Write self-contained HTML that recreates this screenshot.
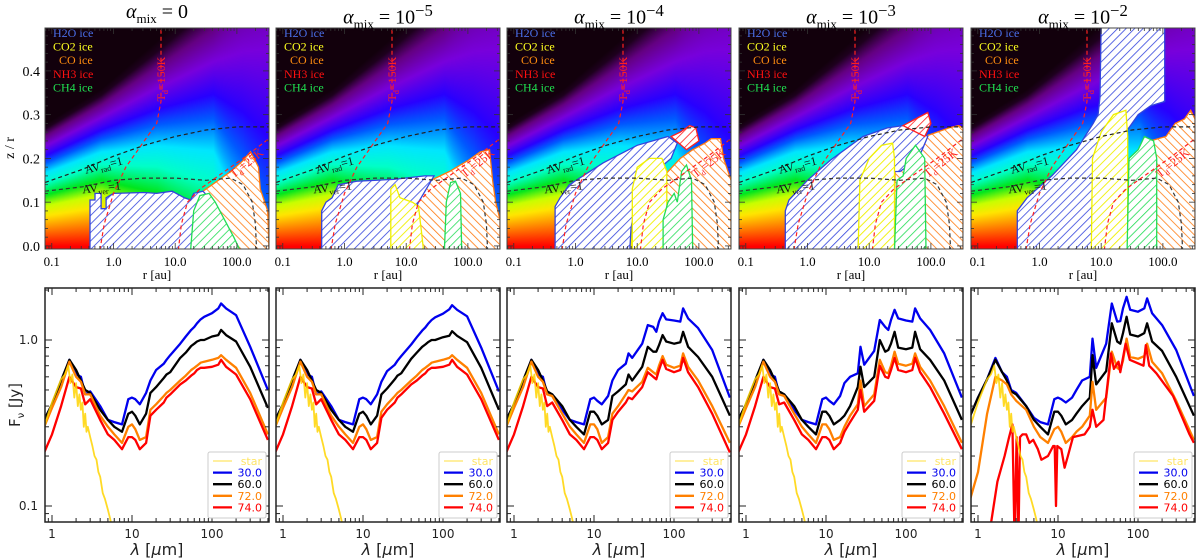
<!DOCTYPE html>
<html><head><meta charset="utf-8">
<style>
html,body{margin:0;padding:0;background:#fff;}
#wrap{position:relative;width:1200px;height:558px;overflow:hidden;background:#fff;}
canvas{position:absolute;}
svg{position:absolute;left:0;top:0;}
.ttl{position:absolute;font-family:"Liberation Serif",serif;font-size:20px;text-align:center;width:224px;top:1px;color:#000;}
</style></head>
<body>
<div id="wrap">
<svg id="s" width="1200" height="558" xmlns="http://www.w3.org/2000/svg">
<defs>
<pattern id="hb" width="6" height="6" patternUnits="userSpaceOnUse" patternTransform="rotate(45)"><rect width="6" height="6" fill="#fff"/><line x1="0" y1="0" x2="0" y2="6" stroke="#3344dd" stroke-width="1.6"/></pattern>
<pattern id="hy" width="6" height="6" patternUnits="userSpaceOnUse" patternTransform="rotate(45)"><rect width="6" height="6" fill="#fff"/><line x1="0" y1="0" x2="0" y2="6" stroke="#f0f000" stroke-width="1.8"/></pattern>
<pattern id="ho" width="6" height="6" patternUnits="userSpaceOnUse" patternTransform="rotate(-45)"><rect width="6" height="6" fill="#fff"/><line x1="0" y1="0" x2="0" y2="6" stroke="#ff7a10" stroke-width="1.6"/></pattern>
<pattern id="hg" width="6" height="6" patternUnits="userSpaceOnUse" patternTransform="rotate(45)"><rect width="6" height="6" fill="#fff"/><line x1="0" y1="0" x2="0" y2="6" stroke="#22dd55" stroke-width="1.6"/></pattern>
<pattern id="hr" width="6" height="6" patternUnits="userSpaceOnUse" patternTransform="rotate(45)"><rect width="6" height="6" fill="#fff"/><line x1="0" y1="0" x2="0" y2="6" stroke="#ff2020" stroke-width="1.6"/></pattern>
</defs>
</svg>
</div>
<script>
// ---------- data ----------
const titles=["0","10<sup>\u22125</sup>","10<sup>\u22124</sup>","10<sup>\u22123</sup>","10<sup>\u22122</sup>"];
const orangeIce=[
[[1.3,-0.01],[1.3,0.11],[1.6,0.14],[1.9,0.17],[2.1,0.195],[2.22,0.215],[2.28,0.2],[2.35,0.18],[2.38,0.13],[2.45,0.1],[2.5,0.08],[2.52,-0.01]],
[[0.9,-0.01],[0.9,0.08],[1.1,0.11],[1.4,0.15],[1.7,0.17],[2.0,0.195],[2.2,0.215],[2.35,0.22],[2.4,0.15],[2.45,0.1],[2.52,0.06],[2.52,-0.01]],
[[1.2,-0.01],[1.25,0.12],[1.5,0.17],[1.7,0.2],[1.9,0.22],[2.1,0.235],[2.2,0.245],[2.35,0.245],[2.4,0.2],[2.52,0.15],[2.52,-0.01]],
[[1.4,-0.01],[1.42,0.18],[1.6,0.22],[1.9,0.25],[2.1,0.26],[2.3,0.27],[2.45,0.275],[2.52,0.27],[2.52,-0.01]],
[[1.4,-0.01],[1.42,0.18],[1.6,0.22],[1.8,0.24],[2.05,0.25],[2.2,0.28],[2.35,0.29],[2.45,0.31],[2.52,0.29],[2.52,-0.01]]];
const blueIce=[
[[-0.38,-0.01],[-0.38,0.105],[-0.3,0.105],[-0.3,0.12],[-0.2,0.12],[-0.2,0.085],[-0.12,0.085],[-0.12,0.11],[0,0.12],[0.5,0.122],[0.7,0.12],[0.95,0.125],[1.15,0.11],[1.25,0.105],[1.3,0.12],[1.45,0.125],[1.55,0.11],[1.7,0.06],[1.8,0.02],[1.85,-0.01]],
[[-0.37,-0.01],[-0.37,0.08],[-0.3,0.1],[-0.2,0.11],[-0.1,0.14],[0.2,0.148],[0.8,0.152],[1.3,0.16],[1.45,0.16],[1.2,0.1],[1.0,0.04],[0.95,-0.01]],
[[-0.33,-0.01],[-0.33,0.09],[-0.25,0.11],[-0.1,0.14],[0.45,0.19],[1.0,0.23],[1.5,0.25],[1.65,0.235],[1.55,0.2],[1.3,0.17],[1.0,0.12],[0.9,0.04],[0.88,-0.01]],
[[-0.36,-0.01],[-0.36,0.08],[-0.3,0.105],[0.0,0.15],[0.37,0.196],[0.9,0.25],[1.3,0.27],[1.55,0.275],[1.8,0.265],[1.95,0.25],[1.8,0.2],[1.5,0.17],[1.0,0.17],[0.85,0.1],[0.82,-0.01]],
[[-0.36,-0.01],[-0.36,0.08],[-0.2,0.11],[0.2,0.16],[0.6,0.22],[0.87,0.28],[0.95,0.3],[0.98,0.34],[1.0,0.51],[2.03,0.51],[2.03,0.33],[1.8,0.32],[1.6,0.3],[1.3,0.24],[1.2,0.2],[1.0,0.1],[0.85,-0.01]]];
const yellowIce=[
[],
[[0.75,-0.01],[0.75,0.13],[0.82,0.14],[0.9,0.11],[1.0,0.105],[1.1,0.1],[1.2,0.09],[1.25,0.03],[1.28,-0.01]],
[[0.92,-0.01],[0.92,0.13],[1.0,0.18],[1.2,0.2],[1.4,0.2],[1.48,0.17],[1.48,-0.01]],
[[0.82,-0.01],[0.85,0.15],[1.0,0.2],[1.2,0.23],[1.38,0.235],[1.41,0.2],[1.41,-0.01]],
[[0.84,-0.01],[0.86,0.2],[1.0,0.26],[1.2,0.3],[1.4,0.31],[1.43,0.25],[1.43,-0.01]]];
const greenIce=[
[[1.25,-0.01],[1.3,0.08],[1.4,0.115],[1.55,0.12],[1.65,0.1],[1.8,0.06],[1.95,0.02],[2.05,-0.01]],
[[1.62,-0.01],[1.65,0.1],[1.72,0.145],[1.8,0.148],[1.88,0.12],[1.9,-0.01]],
[[1.42,-0.01],[1.42,0.06],[1.5,0.1],[1.6,0.12],[1.65,0.1],[1.72,0.17],[1.8,0.185],[1.88,0.15],[1.9,-0.01]],
[[1.41,-0.01],[1.45,0.15],[1.55,0.16],[1.6,0.2],[1.75,0.23],[1.9,0.2],[1.92,-0.01]],
[[1.42,-0.01],[1.45,0.2],[1.6,0.22],[1.7,0.25],[1.85,0.24],[1.9,0.2],[1.9,-0.01]]];
const redIce=[[],[],
[[1.55,0.25],[1.7,0.26],[1.85,0.275],[1.95,0.27],[2.0,0.24],[1.8,0.22]],
[[1.55,0.275],[1.75,0.29],[1.95,0.305],[2.0,0.28],[1.9,0.25]],
[]];
const t150=[[0.77,0.51],[0.77,0.33],[0.7,0.28],[0.5,0.24],[0.2,0.18],[0,0.12],[-0.15,0.05],[-0.22,-0.01]];
const t25=[[1.05,-0.01],[1.1,0.05],[1.2,0.1],[1.4,0.13],[1.8,0.17],[2.1,0.2],[2.52,0.245]];
const avRad=[[-1.11,0.145],[-0.5,0.175],[0,0.205],[0.5,0.23],[1,0.25],[1.5,0.265],[2,0.272],[2.52,0.272]];
const avVer=[[-1.11,0.125],[-0.5,0.135],[0,0.15],[0.5,0.155],[1,0.155],[1.5,0.15],[1.9,0.155],[2.1,0.14],[2.25,0.1],[2.3,0.05],[2.32,-0.01]];

const lam=[0.8,1,1.3,1.65,2,2.3,2.6,3,4,5,6,7.5,9,10,11,12.5,15,17,20,25,27,30,40,47,55,60,65,72,80,100,120,130,150,200,300,500];
const p1Blue=[.33,.41,.55,.76,.62,.6,.47,.49,.4,.33,.32,.31,.44,.45,.44,.41,.48,.57,.66,.72,.76,.81,.95,1.05,1.15,1.2,1.26,1.33,1.38,1.45,1.55,1.66,1.55,1.41,.91,.5];
const p1Black=[.33,.41,.57,.76,.66,.57,.5,.48,.38,.33,.3,.28,.36,.37,.35,.31,.36,.48,.52,.59,.62,.64,.78,.84,.92,.95,.98,1.0,1.0,1.05,1.07,1.15,1.07,.98,.69,.39];
const p1Orange=[.3,.39,.52,.74,.6,.56,.47,.47,.35,.3,.27,.24,.3,.31,.29,.25,.26,.38,.41,.46,.48,.5,.57,.61,.66,.68,.7,.73,.74,.76,.78,.81,.76,.68,.48,.27];
const p1Red=[.21,.27,.4,.6,.52,.51,.41,.44,.33,.27,.25,.22,.26,.26,.25,.22,.24,.35,.38,.42,.45,.47,.54,.57,.61,.63,.66,.68,.68,.69,.71,.76,.69,.62,.44,.25];
const p2Blue=[.33,.41,.55,.76,.62,.6,.47,.49,.4,.33,.32,.31,.44,.45,.44,.41,.47,.56,.65,.71,.75,.8,.94,1.04,1.14,1.19,1.25,1.32,1.37,1.44,1.53,1.62,1.52,1.39,.9,.49];
const p2Black=[.33,.41,.57,.76,.66,.57,.5,.48,.38,.33,.3,.28,.36,.37,.35,.31,.35,.47,.51,.58,.61,.63,.77,.84,.91,.94,.97,1.0,1.0,1.04,1.06,1.13,1.06,.97,.68,.38];
const p2Orange=[.3,.39,.52,.74,.6,.56,.47,.47,.35,.3,.27,.24,.3,.31,.29,.25,.26,.37,.41,.46,.48,.5,.57,.61,.66,.68,.7,.73,.74,.76,.78,.81,.76,.68,.48,.27];
const p2Red=[.21,.27,.4,.6,.52,.51,.41,.44,.33,.27,.25,.22,.26,.26,.25,.22,.24,.34,.38,.42,.45,.47,.54,.57,.61,.63,.66,.68,.68,.69,.71,.76,.69,.62,.44,.25];
const p3Blue=[.33,.41,.55,.76,.62,.6,.47,.47,.38,.33,.32,.31,.44,.45,.43,.41,.46,.57,.66,.72,.83,.78,.95,1.23,1.2,1.12,1.29,1.45,1.33,1.31,1.29,1.55,1.35,1.18,.87,.45];
const p3Black=[.33,.41,.57,.76,.66,.57,.49,.47,.4,.33,.3,.27,.37,.37,.35,.31,.33,.46,.49,.54,.62,.57,.69,.91,.85,.85,.93,1.07,.98,.95,.97,1.12,.91,.79,.6,.35];
const p3Orange=[.3,.39,.52,.74,.6,.56,.47,.46,.36,.3,.27,.24,.31,.31,.29,.24,.26,.36,.4,.47,.5,.49,.56,.68,.64,.62,.7,.8,.71,.68,.7,.83,.69,.57,.4,.24];
const p3Red=[.21,.27,.4,.6,.52,.51,.4,.42,.33,.27,.25,.22,.26,.26,.25,.22,.24,.33,.37,.42,.45,.44,.52,.64,.6,.58,.66,.76,.67,.64,.66,.78,.64,.52,.36,.21];
const p4Blue=[.33,.41,.55,.76,.62,.6,.47,.47,.38,.33,.32,.31,.44,.45,.43,.41,.46,.55,.6,.63,.91,.71,.86,1.32,1.2,1.15,1.32,1.52,1.35,1.31,1.29,1.55,1.35,1.15,.83,.45];
const p4Black=[.33,.41,.57,.76,.66,.57,.49,.47,.4,.33,.3,.27,.37,.37,.35,.31,.33,.35,.4,.52,.69,.52,.6,1.0,.85,.87,.95,1.12,.9,.88,.9,1.12,.88,.76,.57,.33];
const p4Orange=[.3,.39,.52,.74,.6,.56,.47,.46,.36,.3,.27,.24,.31,.31,.29,.25,.26,.3,.35,.41,.57,.4,.47,.76,.64,.63,.7,.85,.72,.7,.72,.83,.69,.57,.4,.24];
const p4Red=[.21,.27,.4,.6,.52,.51,.41,.42,.33,.27,.25,.22,.26,.26,.25,.22,.24,.28,.32,.38,.5,.37,.43,.7,.6,.59,.66,.78,.66,.64,.66,.78,.64,.52,.36,.22];
const p5Blue=[.35,.45,.58,.78,.64,.6,.5,.48,.4,.34,.32,.31,.44,.45,.44,.42,.45,.5,.57,.6,1.02,.68,.95,1.66,1.29,1.3,1.55,1.82,1.52,1.48,1.55,1.78,1.45,1.23,.87,.46];
const p5Black=[.35,.45,.58,.76,.64,.57,.49,.47,.4,.33,.3,.27,.37,.37,.35,.31,.33,.36,.4,.45,.81,.54,.65,1.26,.98,.95,1.1,1.38,1.08,1.05,1.1,1.26,.98,.86,.6,.35];
const p5Orange=[.11,.16,.36,.6,.57,.54,.47,.43,.38,.3,.26,.24,.29,.3,.28,.24,.26,.28,.3,.35,.56,.38,.45,.85,.68,.66,.75,1.02,.79,.77,.8,.95,.74,.63,.43,.25];
const lamRed5=[1.4,1.75,2.15,2.45,2.69,2.87,3.04,3.2,3.35,3.6,4.0,4.4,4.9,5.6,6.2,7.5,8.7,9.1,9.44,9.8,11,12.1,13.3,15.4,21.5,25,27,30,37,46,50,57,60,70,79,117,125,138,170,275,440,500];
const p5Red=[.07,.14,.2,.26,.31,.06,.26,.06,.26,.27,.27,.24,.25,.22,.19,.2,.23,.23,.1,.23,.22,.17,.2,.26,.27,.3,.38,.3,.33,.83,.67,.74,.64,.95,.76,.7,.93,.7,.63,.46,.27,.24];
const lamStar=[0.8,0.9,1,1.15,1.3,1.45,1.6,1.7,1.8,1.9,2,2.1,2.2,2.3,2.4,2.5,2.6,2.7,2.8,3,3.2,3.4,3.6,3.8,4,4.3,4.6,5,5.3,5.6];
const starFlux=[.3,.36,.42,.5,.58,.62,.7,.55,.62,.45,.55,.4,.47,.38,.42,.3,.36,.28,.3,.26,.23,.2,.19,.16,.15,.12,.11,.095,.085,.075];
const legendLabels=["star","30.0","60.0","72.0","74.0"];
const seriesColors=["#ffd400","#0000ee","#000000","#ff8000","#ff0000"];

// ---------- layout ----------
const lefts=[45,276,507,739,971];
const PW=224, TT=28, TH=221, BT=288, BH=234;
const NS="http://www.w3.org/2000/svg";
const svg=document.getElementById('s');
const wrap=document.getElementById('wrap');
function lx(p,l){return lefts[p]+(l+1.11)*61.7;}
function zy(z){return TT+(0.498-z)*437.6;}
function bx(p,w){return lefts[p]+7+Math.log10(w)*80;}
function by(f){return 340-166*Math.log10(f);}
function mk(tag,attrs,parent){const e=document.createElementNS(NS,tag);for(const k in attrs)e.setAttribute(k,attrs[k]);(parent||svg).appendChild(e);return e;}

const stops=[[0,255,0,0],[.12,255,110,0],[.25,255,230,0],[.33,200,255,0],[.42,0,230,30],[.52,0,255,200],[.6,0,230,255],[.68,0,90,255],[.74,40,0,255],[.82,120,0,220],[.9,100,0,130],[.96,30,0,30],[1,18,0,12]];
function cmap(v){if(v<=0)return stops[0].slice(1);if(v>=1)return stops[stops.length-1].slice(1);
 for(let i=1;i<stops.length;i++){if(v<=stops[i][0]){const a=stops[i-1],b=stops[i],t=(v-a[0])/(b[0]-a[0]);return [a[1]+(b[1]-a[1])*t,a[2]+(b[2]-a[2])*t,a[3]+(b[3]-a[3])*t];}}}
const Hk=[[0,.28,0],[.25,.36,0],[.5,.6,.13],[.75,.93,.34],[.88,1.7,.95],[1,2.5,1.6]];
function interpHA(u){for(let i=1;i<Hk.length;i++){if(u<=Hk[i][0]){const a=Hk[i-1],b=Hk[i],t=(u-a[0])/(b[0]-a[0]);return [a[1]+(b[1]-a[1])*t,a[2]+(b[2]-a[2])*t];}}const l=Hk[Hk.length-1];return [l[1],l[2]];}

for(let p=0;p<5;p++){
  const c=document.createElement('canvas');c.width=PW;c.height=TH;c.style.left=lefts[p]+'px';c.style.top=TT+'px';
  
  
  wrap.insertBefore(c,svg);
  const ctx=c.getContext('2d');const im=ctx.createImageData(PW,TH);
  for(let x=0;x<PW;x++){const u=x/PW;const [H,a]=interpHA(u);
    for(let y=0;y<TH;y++){const z=0.498-y/437.6;const v=(z+a)/H;const col=cmap(v);const i=(y*PW+x)*4;
      im.data[i]=col[0];im.data[i+1]=col[1];im.data[i+2]=col[2];im.data[i+3]=255;}}
  ctx.putImageData(im,0,0);
  const t=document.createElement('div');t.className='ttl';t.style.left=lefts[p]+'px';
  t.innerHTML='<i>\u03b1</i><sub style="font-size:13px">mix</sub> = '+titles[p];
  
  
  wrap.appendChild(t);
}

for(let p=0;p<5;p++){
  const L=lefts[p];
  const cp=mk('clipPath',{id:'ct'+p});mk('rect',{x:L,y:TT,width:PW,height:TH},cp);
  const g=mk('g',{'clip-path':'url(#ct'+p+')'});
  
  
  const poly=(arr,fill,stroke,name)=>{if(!arr.length)return;const e=mk('polygon',{points:arr.map(q=>lx(p,q[0]).toFixed(1)+','+zy(q[1]).toFixed(1)).join(' '),fill:fill,stroke:stroke,'stroke-width':1.3},g);
    
    };
  poly(orangeIce[p],'url(#ho)','#ff7a10','co-ice-region');
  poly(blueIce[p],'url(#hb)','#3344dd','h2o-ice-region');
  poly(yellowIce[p],'url(#hy)','#f0f000','co2-ice-region');
  poly(greenIce[p],'url(#hg)','#22dd55','ch4-ice-region');
  poly(redIce[p],'url(#hr)','#ff2020','nh3-ice-region');
  const line=(arr,col,name)=>{const e=mk('polyline',{points:arr.map(q=>lx(p,q[0]).toFixed(1)+','+zy(q[1]).toFixed(1)).join(' '),fill:'none',stroke:col,'stroke-width':1.2,'stroke-dasharray':'4,3'},g);
    
    };
  line(avRad,'#222','av-rad-contour');line(avVer,'#333','av-ver-contour');
  line(t150,'#ff2020','t150-contour');line(t25,'#ff2020','t25-contour');
  const ann=(x,y,rot,html,col,name)=>{const e=mk('text',{x:x,y:y,transform:'rotate('+rot+' '+x+' '+y+')','font-family':'Liberation Serif, serif','font-size':12,fill:col},g);e.innerHTML=html;
    
    };
  ann(lx(p,-0.45),zy(0.165),-14,'AV<tspan font-size="8" dy="3">rad</tspan><tspan dy="-3">=1</tspan>','#111','av-rad-label');
  ann(lx(p,-0.5),zy(0.12),-6,'AV<tspan font-size="8" dy="3">ver</tspan><tspan dy="-3">=1</tspan>','#111','av-ver-label');
  ann(lx(p,0.77)+4,zy(0.33),-90,'T<tspan font-size="8" dy="3">d</tspan><tspan dy="-3">=150K</tspan>','#ff2020','t150-label');
  ann(lx(p,1.95),zy(0.155),-38,'T<tspan font-size="8" dy="3">d</tspan><tspan dy="-3">=25K</tspan>','#ff2020','t25-label');
  const leg=[['H2O ice','#4a6ee8'],['CO2 ice','#ffff20'],['CO ice','#ff8c10'],['NH3 ice','#ff1010'],['CH4 ice','#20e050']];
  leg.forEach((d,i)=>{const e=mk('text',{x:L+8+(i==2?6:0),y:TT+9+i*13.6,'font-family':'Liberation Serif, serif','font-size':12,fill:d[1]});e.textContent=d[0];
    
    });
  const fr=mk('rect',{x:L,y:TT,width:PW,height:TH,fill:'none',stroke:'#444','stroke-width':1});
  
  
  for(let d=-2;d<=2;d++)for(let m=1;m<10;m++){const l=d+Math.log10(m);if(l<-1.11||l>2.52)continue;const x=lx(p,l);const len=m==1?6:3;
    mk('line',{x1:x,y1:TT+TH,x2:x,y2:TT+TH-len,stroke:'#333','stroke-width':0.8});mk('line',{x1:x,y1:TT,x2:x,y2:TT+len,stroke:'#333','stroke-width':0.8});}
  for(let k=0;k<=24;k++){const z=k*0.02;const y=zy(z);const len=k%5==0?6:3;
    mk('line',{x1:L,y1:y,x2:L+len,y2:y,stroke:'#333','stroke-width':0.8});mk('line',{x1:L+PW,y1:y,x2:L+PW-len,y2:y,stroke:'#333','stroke-width':0.8});}
  ['0.1','1.0','10.0','100.0'].forEach((s,i)=>{const e=mk('text',{x:lx(p,i-1),y:266,'text-anchor':'middle','font-family':'Liberation Serif, serif','font-size':13,fill:'#000'});e.textContent=s;
    
    });
  const xl=mk('text',{x:L+PW/2,y:279,'text-anchor':'middle','font-family':'Liberation Serif, serif','font-size':13,fill:'#000'});xl.textContent='r [au]';
  
  
}
['0.0','0.1','0.2','0.3','0.4'].forEach((s,i)=>{const e=mk('text',{x:40,y:zy(i*0.1)+5,'text-anchor':'end','font-family':'Liberation Serif, serif','font-size':14,fill:'#000'});e.textContent=s;
  
  });
{const e=mk('text',{x:14,y:148,transform:'rotate(-90 14 148)','text-anchor':'middle','font-family':'Liberation Serif, serif','font-size':14,fill:'#000'});e.textContent='z / r';
 
 }

const panelSeries=[
 [[lam,p1Blue],[lam,p1Black],[lam,p1Orange],[lam,p1Red]],
 [[lam,p2Blue],[lam,p2Black],[lam,p2Orange],[lam,p2Red]],
 [[lam,p3Blue],[lam,p3Black],[lam,p3Orange],[lam,p3Red]],
 [[lam,p4Blue],[lam,p4Black],[lam,p4Orange],[lam,p4Red]],
 [[lam,p5Blue],[lam,p5Black],[lam,p5Orange],[lamRed5,p5Red]]];
const seriesNames=['sed-30','sed-60','sed-72','sed-74'];
for(let p=0;p<5;p++){
  const L=lefts[p];
  const cp=mk('clipPath',{id:'cb'+p});mk('rect',{x:L,y:BT,width:PW,height:BH},cp);
  const g=mk('g',{'clip-path':'url(#cb'+p+')'});
  
  
  const path=(xs,ys,col,w,name,op)=>{let d='';xs.forEach((w2,i)=>{d+=(i?'L':'M')+bx(p,w2).toFixed(1)+','+by(ys[i]).toFixed(1);});
    const e=mk('path',{d:d,fill:'none',stroke:col,'stroke-width':w,'stroke-linejoin':'round','opacity':op||1},g);
    
    };
  panelSeries[p].forEach((s,i)=>path(s[0],s[1],seriesColors[i+1],2.3,seriesNames[i]));
  path(lamStar,starFlux,seriesColors[0],1.8,'sed-star',0.85);
  const fr=mk('rect',{x:L,y:BT,width:PW,height:BH,fill:'none',stroke:'#222','stroke-width':1.5});
  
  
  for(let d=-1;d<=2;d++)for(let m=1;m<10;m++){const w=Math.pow(10,d)*m;const x=bx(p,w);if(x<L||x>L+PW)continue;const len=m==1?7:4;
    mk('line',{x1:x,y1:BT+BH,x2:x,y2:BT+BH-len,stroke:'#222','stroke-width':1});mk('line',{x1:x,y1:BT,x2:x,y2:BT+len,stroke:'#222','stroke-width':1});}
  for(let d=-2;d<=0;d++)for(let m=1;m<10;m++){const f=Math.pow(10,d)*m;const y=by(f);if(y<BT||y>BT+BH)continue;const len=m==1?7:4;
    mk('line',{x1:L,y1:y,x2:L+len,y2:y,stroke:'#222','stroke-width':1});mk('line',{x1:L+PW,y1:y,x2:L+PW-len,y2:y,stroke:'#222','stroke-width':1});}
  ['1','10','100'].forEach((s,i)=>{const e=mk('text',{x:bx(p,Math.pow(10,i)),y:538,'text-anchor':'middle','font-family':'DejaVu Sans, Liberation Sans, sans-serif','font-size':12,fill:'#222'});e.textContent=s;
    
    });
  const xl=mk('text',{x:L+PW/2,y:555,'text-anchor':'middle','font-family':'DejaVu Sans, Liberation Sans, sans-serif','font-size':16,fill:'#222'});
  xl.innerHTML='<tspan font-style="italic">\u03bb</tspan> [<tspan font-style="italic">\u03bc</tspan>m]';
  
  
  const lg=mk('g',{});
  
  
  mk('rect',{x:L+PW-61,y:452,width:58,height:66,fill:'#fff',stroke:'#ccc','stroke-width':1,rx:2},lg);
  legendLabels.forEach((s,i)=>{const y=461+i*11.6;
    mk('line',{x1:L+PW-56,y1:y,x2:L+PW-37,y2:y,stroke:seriesColors[i],'stroke-width':i?2.3:1.2,opacity:i?1:0.6},lg);
    const e=mk('text',{x:L+PW-7,y:y+4,'text-anchor':'end','font-family':'DejaVu Sans, Liberation Sans, sans-serif','font-size':11,fill:seriesColors[i],opacity:i?1:0.6},lg);e.textContent=s;
    
    });
}
[['1.0',1],['0.1',0.1]].forEach(d=>{const e=mk('text',{x:38,y:by(d[1])+4,'text-anchor':'end','font-family':'DejaVu Sans, Liberation Sans, sans-serif','font-size':12,fill:'#222'});e.textContent=d[0];
  
  });
{const e=mk('text',{x:20,y:405,transform:'rotate(-90 20 405)','text-anchor':'middle','font-family':'DejaVu Sans, Liberation Sans, sans-serif','font-size':15,fill:'#222'});
 e.innerHTML='F<tspan font-size="10" dy="4">\u03bd</tspan><tspan dy="-4"> [Jy]</tspan>';
 
 }
</script>
</body></html>
